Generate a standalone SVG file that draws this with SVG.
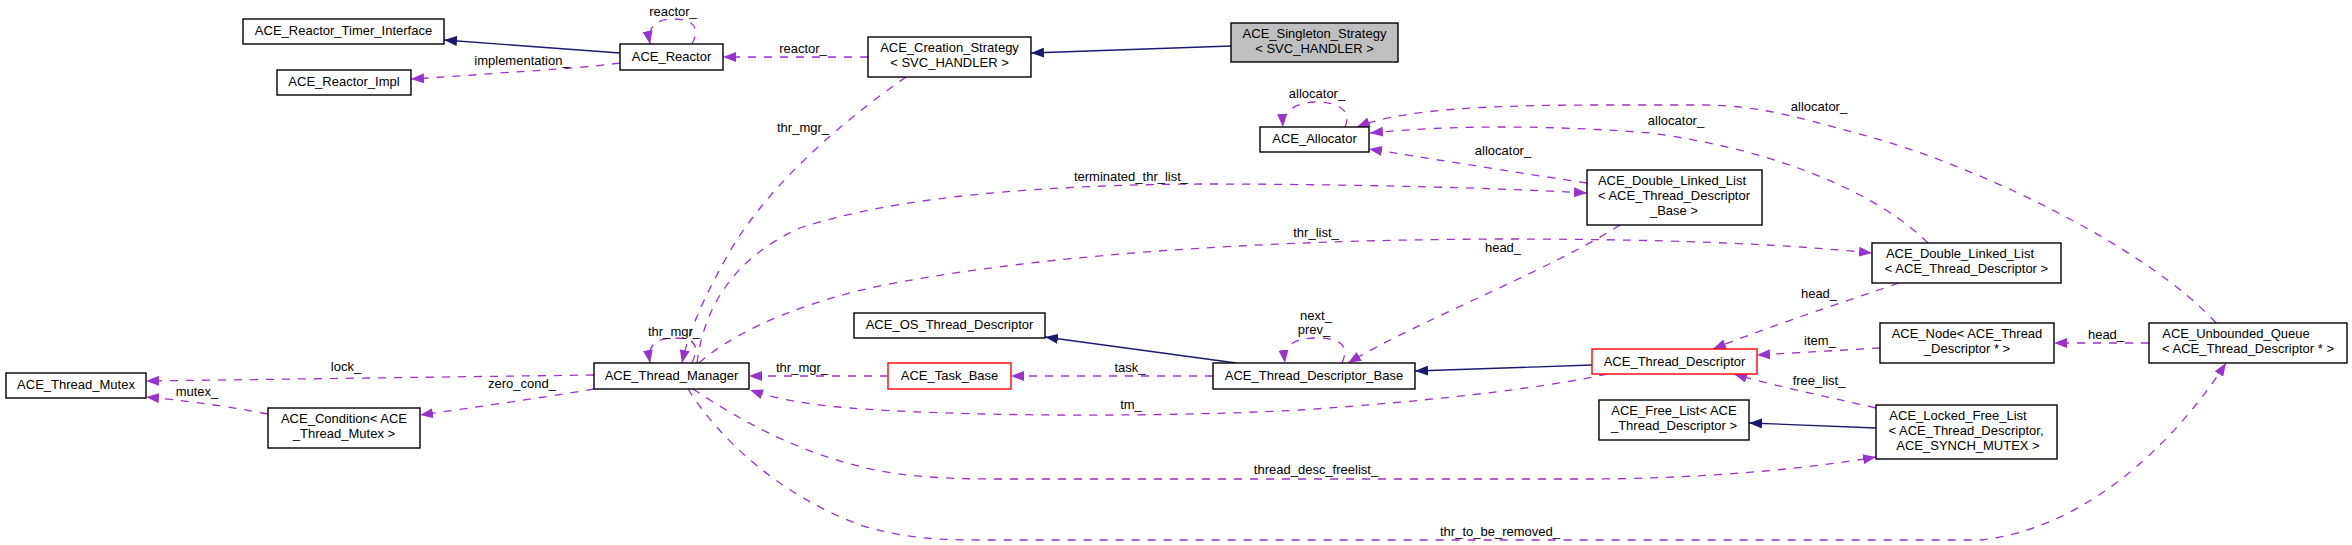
<svg xmlns="http://www.w3.org/2000/svg" width="2352" height="545" viewBox="0 0 2352 545">
<style>
text{font-family:"Liberation Sans",Arial,Helvetica,sans-serif;font-size:13px;fill:#000}
.node text{text-anchor:middle}
.node rect{fill:#fff;stroke:#000;stroke-width:1.4}
.node.red rect{stroke:#ff0000}
.node.main rect{fill:#bfbfbf}
.lbl{text-anchor:middle}
.dep{fill:none;stroke:#9a32cd;stroke-width:1.3;stroke-dasharray:8,8}
.inh{fill:none;stroke:#191970;stroke-width:1.3}
</style>
<defs>
<marker id="ap" viewBox="0 0 13 10" refX="13" refY="5" markerWidth="13" markerHeight="10" markerUnits="userSpaceOnUse" orient="auto"><path d="M0,0L13,5L0,10z" fill="#9a32cd" stroke="none"/></marker>
<marker id="an" viewBox="0 0 13 10" refX="13" refY="5" markerWidth="13" markerHeight="10" markerUnits="userSpaceOnUse" orient="auto"><path d="M0,0L13,5L0,10z" fill="#191970" stroke="none"/></marker>
</defs>
<rect width="2352" height="545" fill="#fff"/>
<g id="connectors">
<path class="inh" d="M620,53 L444,40" marker-end="url(#an)"/>
<path class="inh" d="M1231,46 L1031,53" marker-end="url(#an)"/>
<path class="inh" d="M1236,363 L1045,337" marker-end="url(#an)"/>
<path class="inh" d="M1592,365 L1415,371" marker-end="url(#an)"/>
<path class="inh" d="M1876,428 L1749,423" marker-end="url(#an)"/>
<g><path class="dep" d="M692,44 C700,29 695,19 673,19 C655,19 647,28 650,44" marker-end="url(#ap)"/><text class="lbl" x="673" y="16">reactor_</text></g>
<g><path class="dep" d="M620,63 C590,67 560,69 500,73 C460,76 430,78 411,79" marker-end="url(#ap)"/><text class="lbl" x="522" y="65">implementation_</text></g>
<g><path class="dep" d="M868,57 L723,57" marker-end="url(#ap)"/><text class="lbl" x="803" y="53">reactor_</text></g>
<g><path class="dep" d="M906,77 C830,130 760,195 725,260 C700,305 688,335 682,363" marker-end="url(#ap)"/><text class="lbl" x="803" y="132">thr_mgr_</text></g>
<g><path class="dep" d="M692,363 C700,345 695,338 674,338 C656,338 647,345 650,363" marker-end="url(#ap)"/><text class="lbl" x="674" y="336">thr_mgr_</text></g>
<g><path class="dep" d="M1345,127 C1352,112 1340,102 1317,102 C1295,102 1282,112 1283,127" marker-end="url(#ap)"/><text class="lbl" x="1317" y="98">allocator_</text></g>
<g><path class="dep" d="M1587,183 C1500,170 1420,157 1369,149" marker-end="url(#ap)"/><text class="lbl" x="1503" y="155">allocator_</text></g>
<g><path class="dep" d="M1928,243 C1880,195 1780,150 1650,133 C1550,125 1450,125 1370,133" marker-end="url(#ap)"/><text class="lbl" x="1676" y="125">allocator_</text></g>
<g><path class="dep" d="M2216,323 C2150,250 1980,165 1856,133 C1800,118 1760,105 1700,105 L1600,105 C1480,105 1400,110 1357,127" marker-end="url(#ap)"/><text class="lbl" x="1819" y="111">allocator_</text></g>
<g><path class="dep" d="M697,363 C705,300 740,255 800,228 C900,195 1050,185 1200,184 C1350,184 1500,188 1587,193" marker-end="url(#ap)"/><text class="lbl" x="1131" y="181">terminated_thr_list_</text></g>
<g><path class="dep" d="M699,363 C730,335 800,300 900,282 C1050,255 1250,240 1500,239 C1700,239 1800,246 1872,253" marker-end="url(#ap)"/><text class="lbl" x="1316" y="237">thr_list_</text></g>
<g><path class="dep" d="M1620,225 C1550,270 1420,320 1348,363" marker-end="url(#ap)"/><text class="lbl" x="1503" y="252">head_</text></g>
<g><path class="dep" d="M1899,283 C1820,310 1760,330 1713,349" marker-end="url(#ap)"/><text class="lbl" x="1819" y="298">head_</text></g>
<g><path class="dep" d="M1342,363 C1350,345 1340,338 1316,338 C1293,338 1283,346 1285,363" marker-end="url(#ap)"/><text class="lbl" x="1316" y="320">next_</text><text class="lbl" x="1314" y="334">prev_</text></g>
<g><path class="dep" d="M1213,376 L1011,376" marker-end="url(#ap)"/><text class="lbl" x="1130" y="372">task_</text></g>
<g><path class="dep" d="M888,376 L749,376" marker-end="url(#ap)"/><text class="lbl" x="802" y="372">thr_mgr_</text></g>
<g><path class="dep" d="M1607,374 C1560,385 1450,400 1300,410 C1150,418 950,416 850,408 C800,404 770,397 750,390" marker-end="url(#ap)"/><text class="lbl" x="1131" y="409">tm_</text></g>
<g><path class="dep" d="M594,375 L146,381" marker-end="url(#ap)"/><text class="lbl" x="346" y="371">lock_</text></g>
<g><path class="dep" d="M594,389 C540,398 470,408 420,415" marker-end="url(#ap)"/><text class="lbl" x="522" y="388">zero_cond_</text></g>
<g><path class="dep" d="M268,414 C220,405 180,400 146,397" marker-end="url(#ap)"/><text class="lbl" x="197" y="396">mutex_</text></g>
<g><path class="dep" d="M1880,348 L1757,355" marker-end="url(#ap)"/><text class="lbl" x="1820" y="345">item_</text></g>
<g><path class="dep" d="M2149,343 L2054,343" marker-end="url(#ap)"/><text class="lbl" x="2106" y="339">head_</text></g>
<g><path class="dep" d="M1876,408 C1820,395 1770,385 1734,374" marker-end="url(#ap)"/><text class="lbl" x="1819" y="385">free_list_</text></g>
<g><path class="dep" d="M693,389 C740,420 800,455 880,471 C920,478 960,479 1000,479 L1600,479 C1700,478 1800,470 1876,457" marker-end="url(#ap)"/><text class="lbl" x="1316" y="474">thread_desc_freelist_</text></g>
<g><path class="dep" d="M688,389 C720,440 780,495 860,525 C900,537 930,540 980,540 L1980,540 C2080,530 2170,450 2226,363" marker-end="url(#ap)"/><text class="lbl" x="1500" y="536">thr_to_be_removed_</text></g>
</g>
<g id="n_reactor_timer_interface" class="node"><rect x="243" y="19" width="201" height="25"/><text x="343.5" y="35">ACE_Reactor_Timer_Interface</text></g>
<g id="n_reactor_impl" class="node"><rect x="277" y="70" width="134" height="25"/><text x="344" y="86">ACE_Reactor_Impl</text></g>
<g id="n_reactor" class="node"><rect x="620" y="44" width="103" height="26"/><text x="671.5" y="61">ACE_Reactor</text></g>
<g id="n_creation_strategy" class="node"><rect x="868" y="37" width="163" height="40"/><text x="949.5" y="52">ACE_Creation_Strategy</text><text x="949.5" y="67">&lt; SVC_HANDLER &gt;</text></g>
<g id="n_singleton_strategy" class="node main"><rect x="1231" y="23" width="167" height="39"/><text x="1314.5" y="38">ACE_Singleton_Strategy</text><text x="1314.5" y="53">&lt; SVC_HANDLER &gt;</text></g>
<g id="n_allocator" class="node"><rect x="1260" y="127" width="109" height="25"/><text x="1314.5" y="143">ACE_Allocator</text></g>
<g id="n_dll_tdb" class="node"><rect x="1587" y="170" width="175" height="55"/><text x="1672" y="185">ACE_Double_Linked_List</text><text x="1674" y="200">&lt; ACE_Thread_Descriptor</text><text x="1674" y="215">_Base &gt;</text></g>
<g id="n_dll_td" class="node"><rect x="1872" y="243" width="189" height="40"/><text x="1960" y="258">ACE_Double_Linked_List</text><text x="1966.5" y="273">&lt; ACE_Thread_Descriptor &gt;</text></g>
<g id="n_thread_manager" class="node"><rect x="594" y="363" width="155" height="26"/><text x="671.5" y="380">ACE_Thread_Manager</text></g>
<g id="n_thread_mutex" class="node"><rect x="6" y="373" width="140" height="25"/><text x="76" y="389">ACE_Thread_Mutex</text></g>
<g id="n_condition" class="node"><rect x="268" y="408" width="152" height="40"/><text x="344" y="423">ACE_Condition&lt; ACE</text><text x="344" y="438">_Thread_Mutex &gt;</text></g>
<g id="n_os_thread_descriptor" class="node"><rect x="854" y="313" width="191" height="25"/><text x="949.5" y="329">ACE_OS_Thread_Descriptor</text></g>
<g id="n_task_base" class="node red"><rect x="888" y="363" width="123" height="26"/><text x="949.5" y="380">ACE_Task_Base</text></g>
<g id="n_thread_descriptor_base" class="node"><rect x="1213" y="363" width="202" height="26"/><text x="1314" y="380">ACE_Thread_Descriptor_Base</text></g>
<g id="n_thread_descriptor" class="node red"><rect x="1592" y="349" width="165" height="25"/><text x="1674.5" y="366">ACE_Thread_Descriptor</text></g>
<g id="n_node" class="node"><rect x="1880" y="323" width="174" height="40"/><text x="1967" y="338">ACE_Node&lt; ACE_Thread</text><text x="1967" y="353">_Descriptor * &gt;</text></g>
<g id="n_unbounded_queue" class="node"><rect x="2149" y="323" width="198" height="40"/><text x="2236" y="338">ACE_Unbounded_Queue</text><text x="2248" y="353">&lt; ACE_Thread_Descriptor * &gt;</text></g>
<g id="n_free_list" class="node"><rect x="1599" y="400" width="150" height="40"/><text x="1674" y="415">ACE_Free_List&lt; ACE</text><text x="1674" y="430">_Thread_Descriptor &gt;</text></g>
<g id="n_locked_free_list" class="node"><rect x="1876" y="405" width="181" height="54"/><text x="1958" y="420">ACE_Locked_Free_List</text><text x="1966" y="435">&lt; ACE_Thread_Descriptor,</text><text x="1968" y="450"> ACE_SYNCH_MUTEX &gt;</text></g>
</svg>
